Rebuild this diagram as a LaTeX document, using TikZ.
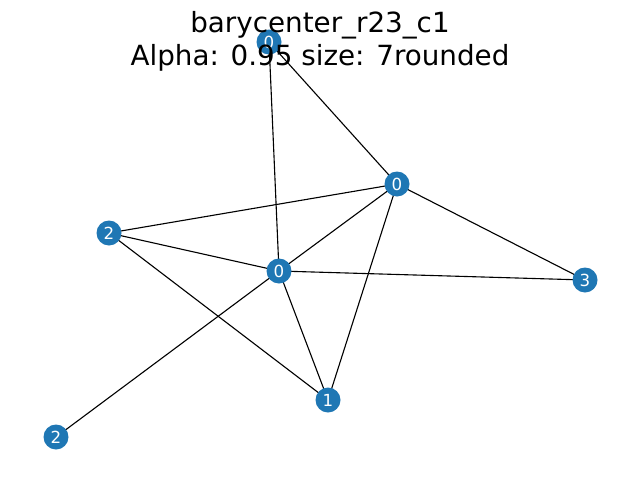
\documentclass[tikz,border=0pt]{standalone}
\usepackage{fontspec}
\setmainfont{DejaVu Sans}
\usetikzlibrary{backgrounds}
\definecolor{nodeblue}{HTML}{1F77B4}
\begin{document}
\begin{tikzpicture}[
				x=0.72pt, y=-0.72pt,
				vertex/.style={circle, fill=nodeblue, minimum size=18pt, inner sep=0, text=white, font=\fontsize{12}{14}\selectfont},
				edge/.style={draw=black, line width=0.8pt},
				titletext/.style={anchor=base, inner sep=0, font=\fontsize{20}{24}\selectfont},
			]
			\useasboundingbox (0,0) rectangle (640,480);
			% vertices
			\node[vertex] (n0a) at (269,42) {0};
			\node[vertex] (n0b) at (397,184) {0};
			\node[vertex] (n2a) at (109,233) {2};
			\node[vertex] (n0c) at (279,271) {0};
			\node[vertex] (n3) at (585,280) {3};
			\node[vertex] (n1) at (328,400) {1};
			\node[vertex] (n2b) at (56,437) {2};
			% edges
			\begin{scope}[on background layer]
				\foreach \a/\b in {n0a/n0b, n0a/n0c, n0b/n2a, n0b/n0c, n0b/n3, n0b/n1, n2a/n0c, n2a/n1, n0c/n3, n0c/n1, n0c/n2b}
					\draw[edge] (\a.center) -- (\b.center);
			\end{scope}
			% title
			\node[titletext] (title1) at (320,32) {barycenter\_r23\_c1};
			\node[titletext] (title2) at (320,65) {Alpha: 0.95 size: 7rounded};
\end{tikzpicture}
\end{document}
